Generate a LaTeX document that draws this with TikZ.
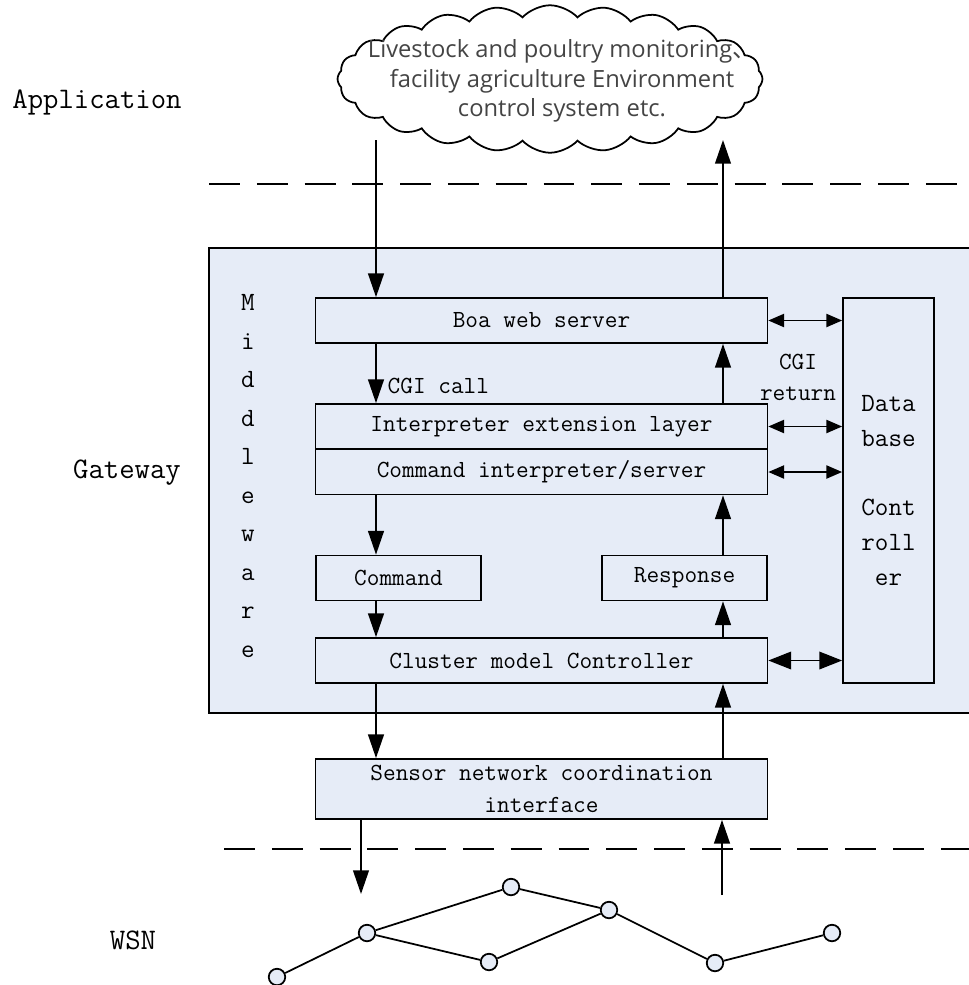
\documentclass[tikz,border=0pt]{standalone}
\usepackage{fontspec}
\usepackage{tikz}
\usetikzlibrary{arrows.meta, shapes.symbols}
\newfontfamily\cloudfont{Open Sans}
\newfontfamily\cjk{Noto Sans CJK SC}
\definecolor{layer}{RGB}{230, 236, 247}
\definecolor{cloudtext}{RGB}{68, 68, 68}

\begin{document}
\begin{tikzpicture}[x=0.02cm, y=-0.02cm, line width=1pt,
  box/.style={draw, fill=layer, minimum width=9.04cm, minimum height=0.9cm,
    inner sep=0pt, align=center, font=\ttfamily\fontsize{14}{18}\selectfont},
  smallbox/.style={box, minimum width=3.3cm},
  tier/.style={font=\ttfamily\fontsize{17}{20}\selectfont},
  arr/.style={-{Triangle[length=13.5pt, width=9pt]}},
  dbl/.style={{Triangle[length=9pt, width=7.5pt]}-{Triangle[length=9pt, width=7.5pt]}},
  sn/.style={circle, draw, fill=layer, inner sep=0pt, minimum size=0.33cm}]
  \useasboundingbox (0, 0) rectangle (969, 985);

  % layers
  \node[tier] (application) at (97, 102) {Application};
  \node[tier] (gateway) at (127, 473) {Gateway};
  \node[tier] (wsn) at (133, 940) {WSN};

  \draw[dash pattern=on 17.6pt off 9.6pt] (209, 184) -- (969, 184);
  \draw[dash pattern=on 17.6pt off 9.6pt] (224, 849) -- (969, 849);

  % application cloud
  \node[cloud, draw, cloud puffs=24, cloud puff arc=95, aspect=3.2,
    minimum width=8.5cm, minimum height=2.95cm, inner sep=0pt] (app) at (550, 79) {};
  \node[align=center, text=cloudtext, font=\cloudfont\fontsize{13.5}{16.8}\selectfont]
    (apptext) at (562, 81) {Livestock and poultry monitoring{\cjk 、}\\facility agriculture Environment\\control system etc.};

  % middleware
  \draw[fill=layer] (209, 248) rectangle (990, 713);
  \node[align=center, font=\ttfamily\fontsize{15}{21.9}\selectfont] (mw) at (248, 476)
    {M\\i\\d\\d\\l\\e\\w\\a\\r\\e};

  \node[box] (boa) at (541.5, 320.5) {Boa web server};
  \node[box] (interp) at (541.5, 426.5) {Interpreter extension layer};
  \node[box] (cmdint) at (541.5, 472) {Command interpreter/server};
  \node[smallbox] (command) at (398.5, 578) {Command};
  \node[smallbox] (response) at (684.5, 578) {Response};
  \node[box] (cluster) at (541.5, 660.5) {Cluster model Controller};
  \node[box, minimum width=1.82cm, minimum height=7.7cm, font=\ttfamily\fontsize{15}{19.8}\selectfont]
    (db) at (888.5, 490.5) {Data\\base\\[19.8pt]Cont\\roll\\er};
  \node[box, minimum height=1.2cm] (sensor) at (541.5, 789)
    {Sensor network coordination\\interface};

  \node[anchor=west, font=\ttfamily\fontsize{14}{18}\selectfont] (call) at (381, 386) {CGI call};
  \node[align=center, font=\ttfamily\fontsize{14}{17.6}\selectfont] (ret) at (798, 377) {CGI\\return};

  % request path
  \coordinate (dn) at (376, 0);
  \coordinate (appin) at (376, 140);
  \coordinate (wsnin) at (361, 894);
  \draw[arr] (appin) -- (boa.north -| appin);
  \draw[arr] (boa.south -| dn) -- (interp.north -| dn);
  \draw[arr] (cmdint.south -| dn) -- (command.north -| dn);
  \draw[arr] (command.south -| dn) -- (cluster.north -| dn);
  \draw[arr] (cluster.south -| dn) -- (sensor.north -| dn);
  \draw[arr] (sensor.south -| wsnin) -- (wsnin);

  % response path
  \coordinate (up) at (723, 0);
  \coordinate (appout) at (723, 140);
  \coordinate (wsnout) at (722, 895);
  \draw[arr] (wsnout) -- (sensor.south -| wsnout);
  \draw[arr] (sensor.north -| up) -- (cluster.south -| up);
  \draw[arr] (cluster.north -| up) -- (response.south -| up);
  \draw[arr] (response.north -| up) -- (cmdint.south -| up);
  \draw[arr] (interp.north -| up) -- (boa.south -| up);
  \draw[arr] (boa.north -| appout) -- (appout);

  % database links
  \draw[dbl] (boa.east) -- (boa.east -| db.west);
  \draw[dbl] (interp.east) -- (interp.east -| db.west);
  \draw[dbl] (cmdint.east) -- (cmdint.east -| db.west);
  \draw[{Triangle[length=13pt, width=10pt]}-{Triangle[length=13pt, width=10pt]}]
    (cluster.east) -- (cluster.east -| db.west);

  % sensor nodes
  \node[sn] (n1) at (277, 977) {};
  \node[sn] (n2) at (367, 933) {};
  \node[sn] (n3) at (511, 887) {};
  \node[sn] (n4) at (489, 962) {};
  \node[sn] (n5) at (609, 910) {};
  \node[sn] (n6) at (715, 963) {};
  \node[sn] (n7) at (832, 933) {};
  \draw (n1) -- (n2) -- (n3) -- (n5) -- (n6) -- (n7);
  \draw (n2) -- (n4) -- (n5);
\end{tikzpicture}
\end{document}
